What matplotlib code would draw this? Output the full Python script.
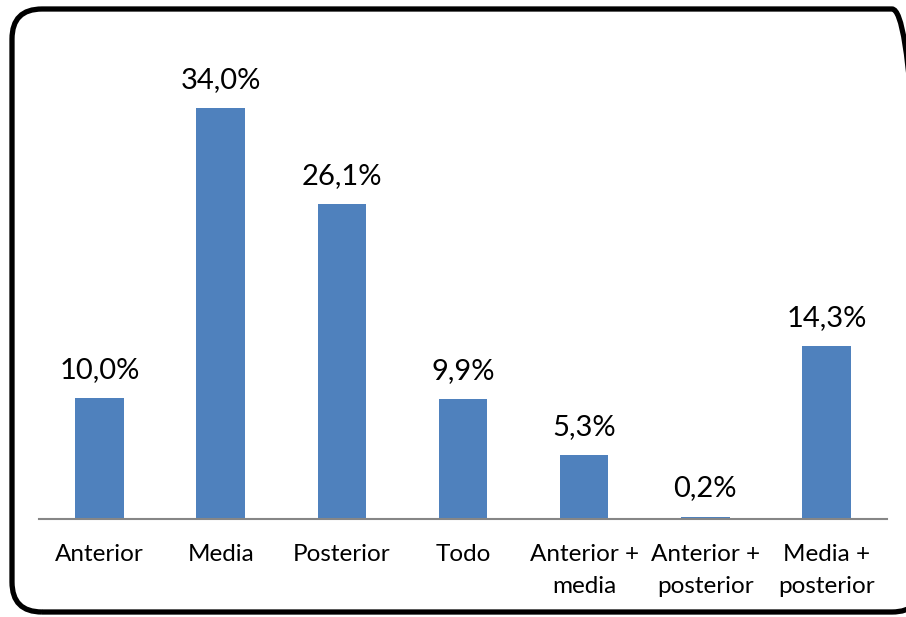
import numpy as np
import matplotlib.pyplot as plt
from matplotlib.patches import FancyBboxPatch
from matplotlib.transforms import IdentityTransform

categories = ["Anterior", "Media", "Posterior", "Todo", "Anterior +\nmedia",
              "Anterior +\nposterior", "Media +\nposterior"]
values = [10.0, 34.0, 26.1, 9.9, 5.3, 0.2, 14.3]

BAR_COLOR = "#4f81bd"
W, H = 906, 617

plt.rcParams["font.family"] = ["Lato", "DejaVu Sans"]

fig = plt.figure(figsize=(W / 100, H / 100), dpi=100)
ax = fig.add_axes([39 / W, 1 - 519 / H, 848 / W, (519 - 36) / H])

x = np.arange(len(categories))
ax.bar(x, values, width=0.4, color=BAR_COLOR)
ax.set_xlim(-0.5, len(categories) - 0.5)
ax.set_ylim(0, 40)

for xi, v in zip(x, values):
    ax.annotate(f"{v:.1f}%".replace(".", ","), (xi, v), xytext=(0, 11),
                textcoords="offset points", ha="center", va="bottom", fontsize=21)

ax.set_xticks(x)
ax.set_xticklabels(categories, fontsize=17.5, linespacing=1.62, va="top")
ax.tick_params(axis="x", length=0, pad=18)
ax.set_yticks([])
for side in ["top", "right", "left"]:
    ax.spines[side].set_visible(False)
ax.spines["bottom"].set_color("#868686")
ax.spines["bottom"].set_linewidth(1.5)

# rounded frame in pixel units; its right edge runs past the canvas
frame = FancyBboxPatch((12, 5), W + 6 - 12 + 10, H - 14,
                       boxstyle="round,pad=0,rounding_size=30",
                       transform=IdentityTransform(), fill=False,
                       edgecolor="black", linewidth=3.8, clip_on=False)
fig.patches.append(frame)

fig.savefig("out.png", dpi=100)
